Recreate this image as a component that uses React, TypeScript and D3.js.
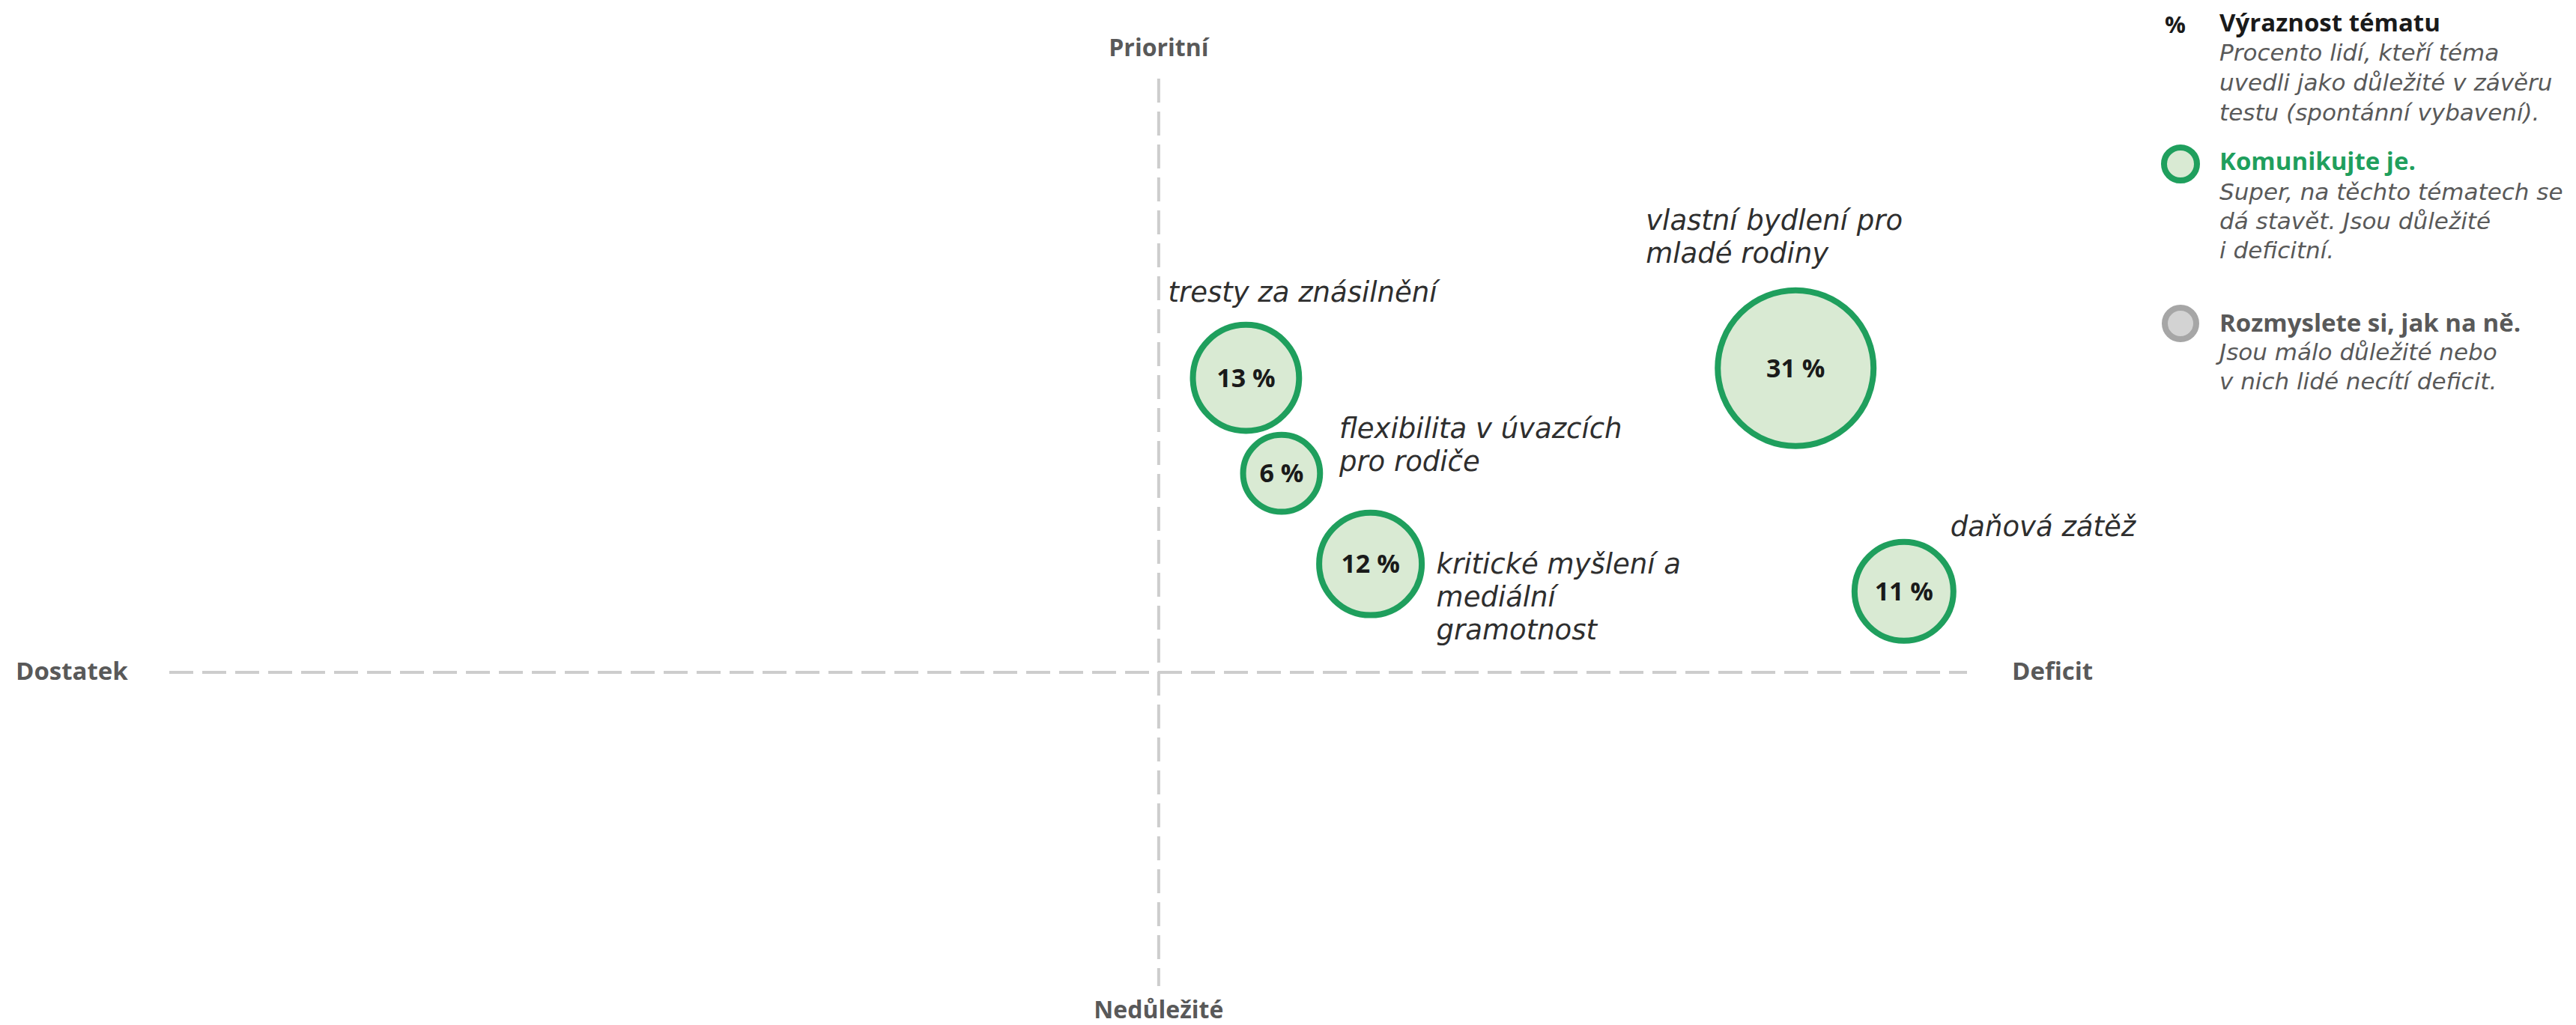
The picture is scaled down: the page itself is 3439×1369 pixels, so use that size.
import React from 'react';
import * as d3 from 'd3';

// topics on the priority / deficit map
const topicLines: string[][] = [
  ['tresty za znásilnění'],
  ['flexibilita v úvazcích', 'pro rodiče'],
  ['kritické myšlení a', 'mediální', 'gramotnost'],
  ['vlastní bydlení pro', 'mladé rodiny'],
  ['daňová zátěž'],
];
const salience = [13, 6, 12, 31, 11]; // % lidí
const deficitScore = [0.54, 0.76, 1.31, 3.94, 4.61];
const priorityScore = [1.82, 1.23, 0.67, 1.88, 0.5];
const group = ['komunikujte', 'komunikujte', 'komunikujte', 'komunikujte', 'komunikujte'];

// axis extents (score units)
const deficitExtent = [-6.12, 5];
const priorityExtent = [-1.94, 3.67];
const axisLabels = { top: 'Prioritní', bottom: 'Nedůležité', left: 'Dostatek', right: 'Deficit' };

// where each label sits relative to its bubble centre
const labelDx = [-104, 77, 88, -200, 62];
const labelDy = [-102, -47, 13, -185, -74];

const W = 3439;
const H = 1369;
const GREEN = '#1f9f5d';
const FILL = '#d9ead3';
const GRAY = '#595959';
const SANS = '"Open Sans", "Noto Sans", sans-serif';
const ITAL = '"DejaVu Sans", "Noto Sans", sans-serif';

export default function App() {
  const x = d3.scaleLinear().domain(deficitExtent).range([226, 2626]);
  const y = d3.scaleLinear().domain(priorityExtent).range([1317, 105]);
  const r = d3.scaleSqrt().domain([0, 31]).range([10, 104]);

  const x0 = x(0);
  const y0 = y(0);

  return (
    <svg width={W} height={H} style={{ position: 'absolute', left: 0, top: 0, background: '#fff' }}>
      {/* axes */}
      <line x1={x.range()[0]} x2={x.range()[1]} y1={y0} y2={y0}
        stroke="#cdcdcd" strokeWidth={4} strokeDasharray="32 12" />
      <line x1={x0} x2={x0} y1={y.range()[1]} y2={y.range()[0]}
        stroke="#cdcdcd" strokeWidth={4} strokeDasharray="32 12" />

      <g fontFamily={SANS} fontWeight={700} fontSize={32} fill={GRAY}>
        <text x={x0} y={75} textAnchor="middle">{axisLabels.top}</text>
        <text x={x0} y={1360} textAnchor="middle">{axisLabels.bottom}</text>
        <text x={21} y={908} fontSize={33}>{axisLabels.left}</text>
        <text x={2686} y={908} fontSize={33}>{axisLabels.right}</text>
      </g>

      {/* bubbles */}
      {salience.map((v, i) => {
        const cx = x(deficitScore[i]);
        const cy = y(priorityScore[i]);
        const green = group[i] === 'komunikujte';
        return (
          <g key={i}>
            <circle cx={cx} cy={cy} r={r(v)} fill={green ? FILL : '#d3d3d3'}
              stroke={green ? GREEN : '#a6a6a6'} strokeWidth={8} />
            <text x={cx} y={cy} dy="0.36em" textAnchor="middle" fontFamily={SANS}
              fontWeight={700} fontSize={34} fill="#1a1a1a">{v} %</text>
            <text fontFamily={ITAL} fontStyle="italic" fontSize={37} fill="#2e2e2e">
              {topicLines[i].map((t, j) => (
                <tspan key={j} x={cx + labelDx[i]} y={cy + labelDy[i] + j * 44}>{t}</tspan>
              ))}
            </text>
          </g>
        );
      })}

      {/* legend */}
      <g fontFamily={SANS}>
        <text x={2890} y={44} fontWeight={700} fontSize={31} fill="#1a1a1a">%</text>
        <text x={2963} y={42} fontWeight={700} fontSize={33} fill="#1a1a1a">Výraznost tématu</text>
        <text fontFamily={ITAL} fontStyle="italic" fontSize={31} fill={GRAY}>
          <tspan x={2963} y={81}>Procento lidí, kteří téma</tspan>
          <tspan x={2963} y={121}>uvedli jako důležité v závěru</tspan>
          <tspan x={2963} y={161}>testu (spontánní vybavení).</tspan>
        </text>

        <circle cx={2911} cy={219} r={22} fill={FILL} stroke={GREEN} strokeWidth={8} />
        <text x={2963} y={227} fontWeight={700} fontSize={33} fill={GREEN}>Komunikujte je.</text>
        <text fontFamily={ITAL} fontStyle="italic" fontSize={31} fill={GRAY}>
          <tspan x={2963} y={267}>Super, na těchto tématech se</tspan>
          <tspan x={2963} y={306}>dá stavět. Jsou důležité</tspan>
          <tspan x={2963} y={345}>i deficitní.</tspan>
        </text>

        <circle cx={2911} cy={432} r={21} fill="#d3d3d3" stroke="#a6a6a6" strokeWidth={8} />
        <text x={2963} y={443} fontWeight={700} fontSize={33} fill={GRAY}>Rozmyslete si, jak na ně.</text>
        <text fontFamily={ITAL} fontStyle="italic" fontSize={31} fill={GRAY}>
          <tspan x={2963} y={481}>Jsou málo důležité nebo</tspan>
          <tspan x={2963} y={520}>v nich lidé necítí deficit.</tspan>
        </text>
      </g>
    </svg>
  );
}
